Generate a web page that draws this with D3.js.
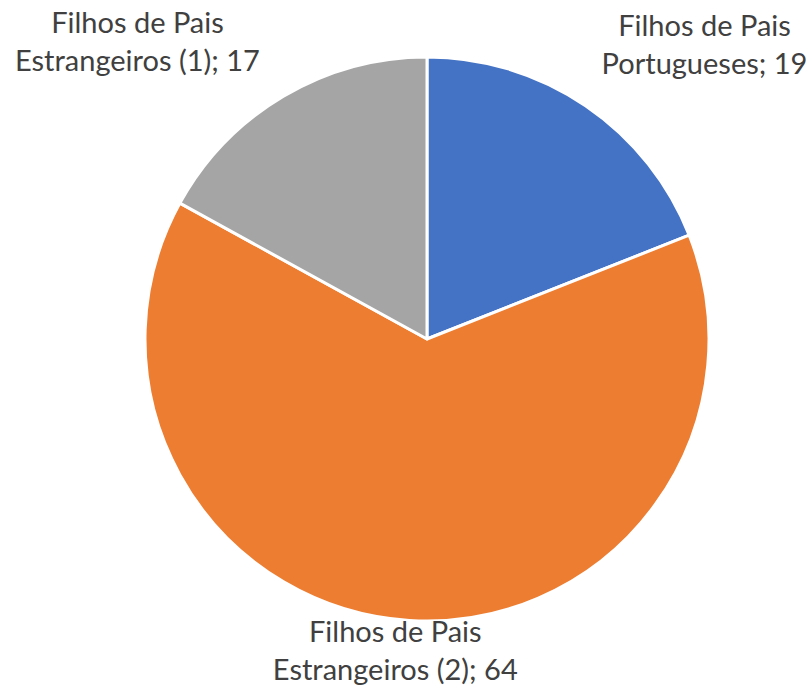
<!DOCTYPE html>
<html lang="pt">
<head>
<meta charset="UTF-8">
<title>Filhos de Pais</title>
<style>
    html, body { margin: 0; padding: 0; background: #fff; }
    #chart { display: block; }
    .lbl { font-family: Lato, "Open Sans", sans-serif; font-size: 29px; fill: #404040; }
</style>
</head>
<body>
<svg id="chart" width="812" height="691"></svg>
<script src="https://d3js.org/d3.v7.min.js"></script>
<script>
    // data
    const categories = ["Portugueses", "Estrangeiros (2)", "Estrangeiros (1)"];
    const values = [19, 64, 17];
    const colors = ["#4472C4", "#ED7D31", "#A5A5A5"];

    // label nudges from the slice edge point (layout only)
    const labelNudge = [[119, -70], [-14, 22], [-146, -63]];

    const svg = d3.select("#chart");
    const cx = 427, cy = 339, radius = 282;

    const pie = d3.pie().sort(null).value(d => d.v);
    const arc = d3.arc().innerRadius(0).outerRadius(radius);
    const arcs = pie(values.map((v, i) => ({ v, i })));

    const g = svg.append("g").attr("transform", `translate(${cx},${cy})`);

    g.selectAll("path")
        .data(arcs)
        .join("path")
        .attr("d", arc)
        .attr("fill", d => colors[d.data.i])
        .attr("stroke", "#fff")
        .attr("stroke-width", 3)
        .attr("stroke-linejoin", "round");

    // data labels
    arcs.forEach(d => {
        const mid = (d.startAngle + d.endAngle) / 2;
        const px = radius * Math.sin(mid) + labelNudge[d.data.i][0];
        const py = -radius * Math.cos(mid) + labelNudge[d.data.i][1];
        const t = g.append("text")
            .attr("class", "lbl")
            .attr("text-anchor", "middle")
            .attr("transform", `translate(${px},${py})`);
        t.append("tspan").attr("x", 0).attr("y", 0).text("Filhos de Pais");
        t.append("tspan").attr("x", 0).attr("y", 38)
            .text(categories[d.data.i] + "; " + d.data.v);
    });
</script>
</body>
</html>
